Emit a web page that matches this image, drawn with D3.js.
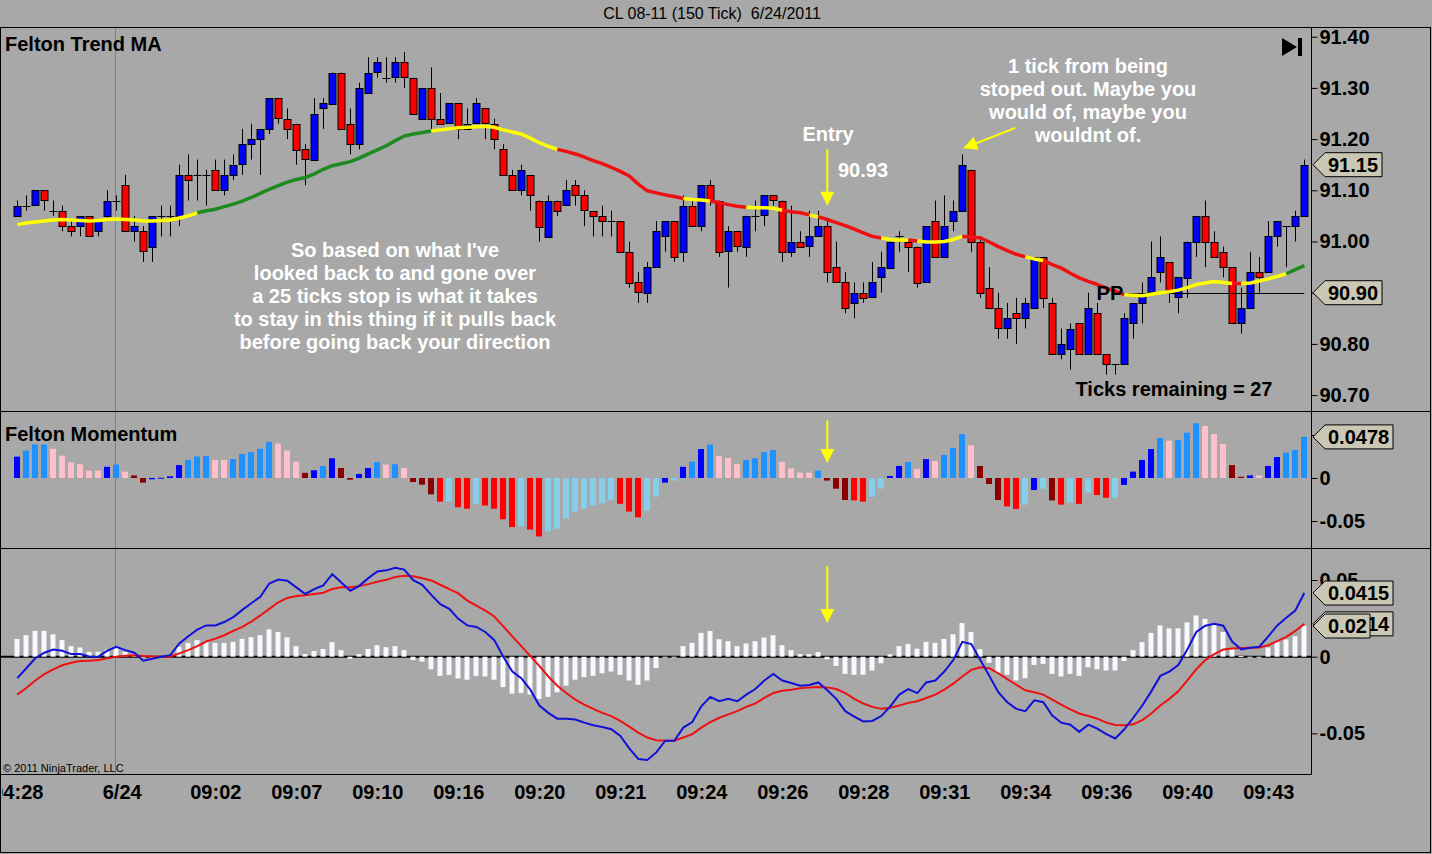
<!DOCTYPE html>
<html>
<head>
<meta charset="utf-8">
<script src="https://cdn.jsdelivr.net/npm/d3@7"></script>
<style>
html, body { margin: 0; padding: 0; background: #a8a8a8; }
svg { display: block; font-family: "Liberation Sans", Arial, sans-serif; }
</style>
</head>
<body>
<div id="canva"></div>
<script>
// ---- price bars (150 tick) ----
const opens = [91.05,91.07,91.07,91.10,91.06,91.06,91.03,91.03,91.05,91.02,
  91.05,91.08,91.11,91.02,91.02,90.99,91.05,91.05,91.05,91.13,
  91.13,91.13,91.14,91.10,91.13,91.15,91.19,91.20,91.22,91.28,
  91.24,91.23,91.18,91.16,91.26,91.27,91.33,91.23,91.19,91.29,
  91.33,91.32,91.32,91.35,91.32,91.24,91.30,91.24,91.23,91.27,
  91.22,91.23,91.26,91.23,91.18,91.13,91.10,91.13,91.08,91.01,
  91.08,91.07,91.11,91.09,91.06,91.05,91.04,91.04,90.98,90.92,
  90.90,90.95,91.01,91.04,90.98,91.07,91.03,91.11,91.08,90.98,
  91.02,90.99,91.05,91.05,91.09,91.08,90.98,91.00,90.99,91.01,
  91.03,90.95,90.92,90.88,90.90,90.89,90.93,90.95,91.01,91.00,
  90.99,90.92,91.04,90.97,91.04,91.06,91.14,91.00,90.91,90.87,
  90.83,90.86,90.85,90.87,90.97,90.88,90.78,90.79,90.84,90.78,
  90.86,90.78,90.76,90.76,90.84,90.88,90.90,90.94,90.96,90.89,
  90.93,91.00,91.05,91.00,90.98,90.95,90.84,90.87,90.94,90.94,
  91.01,91.03,91.03,91.05];
const highs = [91.08,91.09,91.10,91.10,91.08,91.07,91.04,91.05,91.05,91.04,
  91.10,91.09,91.13,91.05,91.03,91.05,91.07,91.07,91.15,91.17,
  91.16,91.14,91.16,91.16,91.17,91.22,91.23,91.22,91.28,91.28,
  91.26,91.23,91.19,91.28,91.28,91.33,91.33,91.26,91.31,91.36,
  91.36,91.36,91.36,91.37,91.32,91.30,91.34,91.29,91.27,91.27,
  91.26,91.28,91.26,91.24,91.19,91.14,91.15,91.13,91.08,91.09,
  91.08,91.12,91.12,91.10,91.06,91.07,91.06,91.04,91.00,90.94,
  90.96,91.04,91.04,91.04,91.09,91.08,91.11,91.12,91.08,91.03,
  91.02,91.05,91.08,91.09,91.09,91.08,91.07,91.02,91.06,91.06,
  91.04,91.00,90.94,90.92,90.92,90.96,90.98,91.00,91.02,91.00,
  90.99,91.03,91.08,91.09,91.08,91.17,91.14,91.01,90.95,90.90,
  90.88,90.89,90.89,90.97,90.97,90.89,90.83,90.84,90.84,90.90,
  90.88,90.78,90.76,90.86,90.88,90.92,91.00,91.01,90.96,90.93,
  91.00,91.05,91.08,91.02,90.99,90.95,90.91,90.98,90.97,91.04,
  91.04,91.03,91.06,91.16];
const lows = [91.05,91.06,91.07,91.06,91.05,91.02,91.01,91.01,91.01,91.01,
  91.04,91.06,91.02,91.00,90.96,90.96,91.01,91.01,91.03,91.08,
  91.08,91.07,91.10,91.09,91.12,91.13,91.16,91.13,91.21,91.23,
  91.20,91.15,91.11,91.16,91.22,91.27,91.22,91.17,91.18,91.29,
  91.32,91.31,91.31,91.30,91.25,91.24,91.22,91.23,91.23,91.20,
  91.22,91.23,91.20,91.18,91.13,91.10,91.09,91.06,91.00,91.01,
  91.05,91.07,91.07,91.03,91.01,91.01,91.01,90.98,90.91,90.88,
  90.88,90.95,90.98,90.96,90.96,91.03,91.02,91.07,90.97,90.91,
  90.98,90.97,91.02,91.03,91.07,90.96,90.97,90.99,90.97,91.01,
  90.92,90.92,90.86,90.85,90.88,90.89,90.90,90.95,90.98,90.94,
  90.91,90.92,90.97,90.97,91.02,91.06,90.98,90.89,90.87,90.81,
  90.81,90.80,90.83,90.87,90.87,90.78,90.77,90.75,90.78,90.78,
  90.78,90.74,90.74,90.76,90.81,90.84,90.90,90.92,90.88,90.86,
  90.89,90.97,90.95,90.97,90.93,90.84,90.82,90.87,90.90,90.94,
  90.99,90.95,91.00,91.05];
const closes = [91.07,91.07,91.10,91.08,91.06,91.03,91.02,91.05,91.01,91.04,
  91.08,91.08,91.02,91.03,90.98,91.05,91.05,91.05,91.13,91.12,
  91.13,91.13,91.10,91.13,91.15,91.19,91.20,91.22,91.28,91.24,
  91.22,91.18,91.16,91.25,91.27,91.33,91.22,91.19,91.30,91.33,
  91.35,91.32,91.35,91.32,91.25,91.30,91.24,91.23,91.27,91.22,
  91.23,91.27,91.23,91.20,91.13,91.10,91.14,91.09,91.03,91.08,
  91.06,91.10,91.09,91.06,91.05,91.04,91.04,90.98,90.92,90.90,
  90.95,91.02,91.04,90.97,91.07,91.03,91.11,91.08,90.98,91.02,
  90.99,91.05,91.05,91.09,91.08,90.98,91.00,90.99,91.01,91.03,
  90.94,90.92,90.87,90.90,90.89,90.92,90.95,91.00,91.01,90.99,
  90.92,91.03,90.97,91.03,91.06,91.15,91.00,90.90,90.87,90.83,
  90.85,90.85,90.88,90.97,90.89,90.78,90.80,90.83,90.78,90.87,
  90.78,90.76,90.76,90.85,90.88,90.90,90.93,90.97,90.90,90.93,
  91.00,91.05,91.00,90.97,90.95,90.84,90.87,90.94,90.93,91.01,
  91.04,91.03,91.05,91.15];

// ---- Felton Trend MA ----
const maValues = [91.033,91.036,91.038,91.040,91.042,91.043,91.042,91.041,91.040,91.041,
  91.043,91.044,91.043,91.042,91.040,91.040,91.041,91.042,91.046,91.050,
  91.056,91.060,91.063,91.068,91.073,91.079,91.086,91.094,91.102,91.109,
  91.116,91.121,91.125,91.132,91.141,91.148,91.152,91.156,91.163,91.171,
  91.179,91.187,91.197,91.206,91.210,91.213,91.216,91.218,91.220,91.222,
  91.223,91.224,91.225,91.223,91.218,91.214,91.210,91.202,91.193,91.186,
  91.180,91.176,91.171,91.165,91.158,91.152,91.145,91.137,91.128,91.112,
  91.099,91.095,91.091,91.088,91.084,91.082,91.081,91.079,91.076,91.072,
  91.069,91.067,91.066,91.066,91.065,91.061,91.058,91.056,91.052,91.048,
  91.043,91.037,91.031,91.024,91.017,91.010,91.007,91.004,91.003,91.003,
  91.001,90.999,90.999,91.000,91.004,91.010,91.009,91.007,90.999,90.990,
  90.982,90.975,90.970,90.966,90.963,90.955,90.948,90.938,90.929,90.922,
  90.916,90.909,90.903,90.896,90.895,90.894,90.897,90.900,90.902,90.905,
  90.910,90.916,90.919,90.922,90.920,90.918,90.918,90.919,90.923,90.927,
  90.932,90.937,90.945,90.953];
// trend state of the MA: [first bar, last bar, state]
const maRuns = [[0,20,"flat"],[20,46,"up"],[46,60,"flat"],[60,74,"down"],[74,77,"flat"],
  [77,81,"down"],[81,85,"flat"],[85,88,"down"],[88,89,"flat"],[89,96,"down"],
  [96,99,"flat"],[99,100,"down"],[100,105,"flat"],[105,112,"down"],[112,114,"flat"],
  [114,123,"down"],[123,135,"flat"],[135,136,"down"],[136,141,"flat"],[141,143,"up"]];

// ---- Felton Momentum ----
const momValues = [0.0248,0.032,0.039,0.039,0.034,0.026,0.018,0.016,0.0085,0.0085,
  0.013,0.0155,0.0074,0.003,-0.0054,-0.0015,0.0003,0.002,0.015,0.021,
  0.025,0.0256,0.021,0.021,0.022,0.028,0.030,0.034,0.042,0.040,
  0.032,0.019,0.006,0.009,0.014,0.023,0.0116,-0.002,0.0047,0.0116,
  0.0186,0.0155,0.016,0.0116,-0.0047,-0.0078,-0.019,-0.0275,-0.0275,-0.034,
  -0.0357,-0.030,-0.032,-0.0357,-0.048,-0.057,-0.056,-0.060,-0.068,-0.062,
  -0.059,-0.047,-0.039,-0.036,-0.032,-0.0295,-0.0256,-0.030,-0.039,-0.0457,
  -0.038,-0.0217,-0.0054,-0.003,0.013,0.019,0.0337,0.0388,0.0256,0.023,
  0.016,0.021,0.023,0.030,0.0326,0.019,0.0112,0.0062,0.0062,0.0085,
  -0.003,-0.0124,-0.0256,-0.026,-0.0275,-0.0217,-0.0124,0.0023,0.014,0.0186,
  0.0105,0.022,0.0198,0.0267,0.0349,0.051,0.038,0.014,-0.007,-0.0256,
  -0.033,-0.036,-0.031,-0.014,-0.0124,-0.026,-0.031,-0.028,-0.030,-0.017,
  -0.0198,-0.023,-0.023,-0.008,0.0074,0.021,0.0337,0.0465,0.0434,0.044,
  0.0527,0.0636,0.0605,0.051,0.0395,0.015,0.0015,0.003,0.003,0.014,
  0.0244,0.0295,0.0326,0.0478];
// B blue, D dodger blue, P pink, R red, M dark red, S sky blue
const momStates = ("BDDDPPPPPP" + "BDPMMBBBBD" + "DDPPDDDDDP" + "PPMBDBMMBB" +
  "DPDPMMMRSR" + "RSRRRRSRRS" + "SSSSSSSRRR" + "SSBSBDBDPP" + "PDDDDPPPPD" +
  "MMMRRSSBBD" + "PBPDDDPMMM" + "RRSBSMRSRS" + "RRSBBBBDPD" + "DDPPPMMBPB" + "BDDD").split("");

// ---- MACD ----
const macdValues = [-0.014,-0.0075,-0.001,0.0026,0.0047,0.0039,0.0017,0.0017,0.0002,0,
  0.0039,0.0065,0.0043,0.0026,-0.0026,-0.0013,0,0.001,0.0086,0.0133,
  0.0176,0.0204,0.0204,0.0226,0.0258,0.0305,0.0348,0.0391,0.0477,0.0503,
  0.0495,0.0452,0.0409,0.0441,0.0465,0.0538,0.0484,0.043,0.0462,0.0512,
  0.0555,0.0563,0.058,0.0568,0.0499,0.0469,0.0403,0.0342,0.0312,0.0247,
  0.0204,0.0194,0.0161,0.0108,0,-0.0097,-0.014,-0.0215,-0.0318,-0.0366,
  -0.0404,-0.0404,-0.0409,-0.043,-0.0447,-0.0458,-0.0473,-0.0516,-0.0598,-0.0667,
  -0.0673,-0.0624,-0.0548,-0.0548,-0.0462,-0.0426,-0.0323,-0.0262,-0.029,-0.0275,
  -0.029,-0.0247,-0.0211,-0.0155,-0.0112,-0.0155,-0.0172,-0.0189,-0.0185,-0.0168,
  -0.0219,-0.0275,-0.0355,-0.0391,-0.0422,-0.0419,-0.0387,-0.0323,-0.0247,-0.0211,
  -0.0237,-0.0168,-0.0155,-0.0097,-0.0022,0.0097,0.0082,-0.0022,-0.0125,-0.0232,
  -0.0297,-0.034,-0.0355,-0.0284,-0.0297,-0.0383,-0.043,-0.0443,-0.049,-0.0443,
  -0.0469,-0.0505,-0.0533,-0.0473,-0.0398,-0.0318,-0.0226,-0.0125,-0.0097,-0.0054,
  0.0047,0.0161,0.0202,0.0215,0.0202,0.0097,0.0047,0.0058,0.0065,0.0133,
  0.0204,0.0254,0.0301,0.0415];
const signalValues = [-0.0247,-0.0204,-0.0155,-0.0114,-0.0082,-0.0056,-0.0039,-0.0028,-0.0026,-0.0022,
  -0.0011,0,0.0006,0.0009,0.0004,0.0002,0,0,0.0022,0.0043,
  0.0069,0.0099,0.0118,0.014,0.0168,0.0194,0.0228,0.0269,0.0312,0.0355,
  0.0383,0.0396,0.04,0.0409,0.0417,0.0441,0.0452,0.0452,0.046,0.0473,
  0.0488,0.0501,0.052,0.0527,0.0525,0.0512,0.0497,0.0469,0.0441,0.0413,
  0.0366,0.0333,0.0301,0.0262,0.0198,0.0133,0.0069,0.0004,-0.006,-0.0129,
  -0.0189,-0.0237,-0.028,-0.0312,-0.034,-0.0366,-0.0387,-0.0419,-0.0456,-0.0495,
  -0.0527,-0.0544,-0.0548,-0.0548,-0.0527,-0.0505,-0.0462,-0.0426,-0.0398,-0.0376,
  -0.0355,-0.0327,-0.0305,-0.0269,-0.0237,-0.0222,-0.0215,-0.0206,-0.02,-0.0198,
  -0.02,-0.0211,-0.0237,-0.0275,-0.0305,-0.0327,-0.034,-0.0333,-0.0318,-0.0301,
  -0.029,-0.0269,-0.0247,-0.0215,-0.0176,-0.0129,-0.0086,-0.0069,-0.0075,-0.0108,
  -0.0146,-0.0183,-0.0219,-0.0232,-0.0247,-0.028,-0.0312,-0.0344,-0.037,-0.0387,
  -0.0404,-0.043,-0.0445,-0.0447,-0.0441,-0.0413,-0.037,-0.0318,-0.0275,-0.0226,
  -0.0155,-0.0082,-0.0022,0.0017,0.0047,0.0054,0.0056,0.0058,0.006,0.0075,
  0.0101,0.0129,0.0168,0.0214];
const histValues = [0.0116,0.014,0.0168,0.0168,0.0146,0.0108,0.0069,0.006,0.0032,0.0032,
  0.0047,0.006,0.0032,0.0017,-0.0004,0,0.0004,0.001,0.0065,0.009,
  0.0108,0.0099,0.009,0.009,0.0097,0.0116,0.0127,0.014,0.0178,0.0161,
  0.0127,0.0069,0.0017,0.0037,0.005,0.0095,0.0043,-0.0013,0.0017,0.005,
  0.0075,0.0062,0.0069,0.0043,-0.0022,-0.0032,-0.0082,-0.0125,-0.0118,-0.0142,
  -0.015,-0.0125,-0.0129,-0.015,-0.0198,-0.0241,-0.0237,-0.0247,-0.0275,-0.0262,
  -0.0232,-0.0189,-0.015,-0.0133,-0.0125,-0.0108,-0.0097,-0.0118,-0.0155,-0.0183,
  -0.0155,-0.0075,-0.0004,0,0.0069,0.009,0.0155,0.0168,0.0114,0.0101,
  0.0069,0.0086,0.0101,0.0125,0.014,0.0075,0.0043,0.0017,0.0017,0.003,
  -0.0017,-0.006,-0.0112,-0.0118,-0.0118,-0.009,-0.0043,0.0015,0.0069,0.0082,
  0.0052,0.0097,0.009,0.0116,0.0146,0.0219,0.0161,0.0049,-0.0039,-0.0108,
  -0.0118,-0.0155,-0.014,-0.0054,-0.0047,-0.0112,-0.0129,-0.0112,-0.0125,-0.0069,
  -0.0082,-0.009,-0.009,-0.0028,0.0043,0.0095,0.0155,0.0204,0.0185,0.0185,
  0.0224,0.0269,0.0247,0.0206,0.0161,0.0054,0.0004,-0.0004,-0.0004,0.006,
  0.0097,0.0112,0.0133,0.0200];

// ---- axes ----
const priceTicks = [90.70, 90.80, 90.90, 91.00, 91.10, 91.20, 91.30, 91.40];
const momTicks = [0.05, 0, -0.05];
const macdTicks = [0.05, 0, -0.05];
const timeLabels = ["04:28","6/24","09:02","09:07","09:10","09:16","09:20","09:21",
  "09:24","09:26","09:28","09:31","09:34","09:36","09:40","09:43"];
const timeTickIdx = [0, 11.6, 22, 31, 40, 49, 58, 67, 76, 85, 94, 103, 112, 121, 130, 139];
const sessionBreak = 11;
const pivotPrice = 90.90;
const pivotStart = 123;
const entryBar = 90;

const width = 1432, height = 854;
const left = 0.5, axisX = 1311.5;
const panels = {
  price: { top: 27.5, bottom: 411.5 },
  mom: { top: 411.5, bottom: 548.5 },
  macd: { top: 548.5, bottom: 774.5 }
};
const BG = "#a8a8a8";
const markerFill = "#cbc7b5";
const stateColor = { B: "#0000ff", D: "#1e90ff", P: "#ffc0cb", R: "#ff0000", M: "#8b0000", S: "#87ceeb" };
const maColor = { flat: "#ffff00", up: "#1f8a1f", down: "#ee1111" };

const x = d3.scaleLinear().domain([0, 143]).range([17.3, 1304.3]);
const px = i => Math.round(x(i)) + 0.5;
const yPrice = d3.scaleLinear().domain([90.70, 91.40]).range([395.1, 36.7]);
const yMom = d3.scaleLinear().domain([-0.05, 0]).range([521, 478]);
const yMacd = d3.scaleLinear().domain([-0.05, 0.05]).range([733.4, 580]);

const svg = d3.select("#canva").append("svg")
  .attr("width", width).attr("height", height);

svg.append("rect").attr("width", width).attr("height", height).attr("fill", BG);

const defs = svg.append("defs");
function clip(id, x0, y0, x1, y1) {
  defs.append("clipPath").attr("id", id).append("rect")
    .attr("x", x0).attr("y", y0).attr("width", x1 - x0).attr("height", y1 - y0);
}
clip("clip-price", 1, panels.price.top, axisX, panels.price.bottom);
clip("clip-mom", 1, panels.mom.top, axisX, panels.mom.bottom);
clip("clip-macd", 1, panels.macd.top, axisX, panels.macd.bottom);
clip("clip-time", 2, panels.macd.bottom, axisX, height);

// title bar
svg.append("text")
  .attr("x", 712).attr("y", 19)
  .attr("text-anchor", "middle")
  .attr("xml:space", "preserve")
  .style("white-space", "pre")
  .style("font-size", "16px")
  .text("CL 08-11 (150 Tick)  6/24/2011");

// ---------- price panel ----------
const gPrice = svg.append("g").attr("clip-path", "url(#clip-price)");

gPrice.append("line")
  .attr("x1", px(sessionBreak) - 1).attr("x2", px(sessionBreak) - 1)
  .attr("y1", panels.price.top).attr("y2", panels.price.bottom)
  .attr("stroke", "#808080");

const bars = gPrice.append("g").selectAll("g")
  .data(d3.range(opens.length))
  .join("g");

bars.append("line")
  .attr("x1", px).attr("x2", px)
  .attr("y1", i => yPrice(highs[i]))
  .attr("y2", i => yPrice(lows[i]))
  .attr("stroke", "#000");

bars.filter(i => opens[i] !== closes[i]).append("rect")
  .attr("x", i => px(i) - 3.5)
  .attr("y", i => Math.round(yPrice(Math.max(opens[i], closes[i]))) + 0.5)
  .attr("width", 7)
  .attr("height", i => Math.max(1, Math.round(Math.abs(yPrice(opens[i]) - yPrice(closes[i])))))
  .attr("fill", i => closes[i] > opens[i] ? "#0000ff" : "#ff0000")
  .attr("stroke", "#000");

bars.filter(i => opens[i] === closes[i]).append("line")
  .attr("x1", i => px(i) - 4).attr("x2", i => px(i) + 4)
  .attr("y1", i => Math.round(yPrice(opens[i])) + 0.5)
  .attr("y2", i => Math.round(yPrice(opens[i])) + 0.5)
  .attr("stroke", "#000");

// pivot line
gPrice.append("line")
  .attr("x1", x(pivotStart)).attr("x2", x(143))
  .attr("y1", Math.round(yPrice(pivotPrice)) + 0.5)
  .attr("y2", Math.round(yPrice(pivotPrice)) + 0.5)
  .attr("stroke", "#000");

// trend MA
const maLine = d3.line()
  .x(i => x(i))
  .y(i => yPrice(maValues[i]));

gPrice.append("g").selectAll("path")
  .data(maRuns)
  .join("path")
  .attr("d", r => maLine(d3.range(r[0], r[1] + 1)))
  .attr("fill", "none")
  .attr("stroke", r => maColor[r[2]])
  .attr("stroke-width", 3.5)
  .attr("stroke-linejoin", "round");

gPrice.append("text")
  .attr("x", x(pivotStart) - 1).attr("y", yPrice(pivotPrice) + 7)
  .attr("text-anchor", "end")
  .style("font-size", "20px").style("font-weight", "bold")
  .text("PP");

gPrice.append("text")
  .attr("x", 5).attr("y", 51)
  .style("font-size", "20px").style("font-weight", "bold")
  .text("Felton Trend MA");

// end-of-chart button
gPrice.append("path")
  .attr("d", "M1282,38L1297,47L1282,56Z")
  .attr("fill", "#000");
gPrice.append("rect")
  .attr("x", 1298).attr("y", 38).attr("width", 4).attr("height", 18)
  .attr("fill", "#000");

function arrow(g, x1, y1, x2, y2) {
  const a = Math.atan2(y2 - y1, x2 - x1);
  const len = 14, half = 7;
  const bx = x2 - len * Math.cos(a), by = y2 - len * Math.sin(a);
  g.append("line")
    .attr("x1", x1).attr("y1", y1).attr("x2", bx).attr("y2", by)
    .attr("stroke", "#ffff00").attr("stroke-width", 2);
  g.append("path")
    .attr("d", `M${x2},${y2}L${bx + half * Math.sin(a)},${by - half * Math.cos(a)}L${bx - half * Math.sin(a)},${by + half * Math.cos(a)}Z`)
    .attr("fill", "#ffff00");
}

function whiteLines(g, cx, firstY, lines) {
  g.append("text")
    .attr("text-anchor", "middle")
    .attr("fill", "#fff")
    .style("font-size", "20px").style("font-weight", "bold")
    .selectAll("tspan")
    .data(lines)
    .join("tspan")
    .attr("x", cx)
    .attr("y", (d, i) => firstY + i * 23)
    .text(d => d);
}

arrow(gPrice, x(entryBar), yPrice(91.18), x(entryBar), yPrice(91.07));
arrow(gPrice, x(110.9), yPrice(91.222), x(105.1), yPrice(91.182));

whiteLines(gPrice, 828, 141, ["Entry"]);
whiteLines(gPrice, 863, 177, ["90.93"]);
whiteLines(gPrice, 1088, 73, ["1 tick from being", "stoped out. Maybe you", "would of, maybe you", "wouldnt of."]);
whiteLines(gPrice, 395, 257, ["So based on what I've", "looked back to and gone over",
  "a 25 ticks stop is what it takes", "to stay in this thing if it pulls back",
  "before going back your direction"]);

gPrice.append("text")
  .attr("x", 1174).attr("y", 396)
  .attr("text-anchor", "middle")
  .style("font-size", "20px").style("font-weight", "bold")
  .text("Ticks remaining = 27");

// ---------- momentum panel ----------
const gMom = svg.append("g").attr("clip-path", "url(#clip-mom)");

gMom.append("line")
  .attr("x1", px(sessionBreak) - 1).attr("x2", px(sessionBreak) - 1)
  .attr("y1", panels.mom.top).attr("y2", panels.mom.bottom)
  .attr("stroke", "#808080");

gMom.append("g").selectAll("rect")
  .data(d3.range(momValues.length))
  .join("rect")
  .attr("x", i => Math.round(x(i)) - 3)
  .attr("y", i => Math.min(yMom(0), yMom(momValues[i])))
  .attr("width", 6)
  .attr("height", i => Math.max(1, Math.abs(yMom(momValues[i]) - yMom(0))))
  .attr("fill", i => stateColor[momStates[i]]);

gMom.append("text")
  .attr("x", 5).attr("y", 441)
  .style("font-size", "20px").style("font-weight", "bold")
  .text("Felton Momentum");

arrow(gMom, x(entryBar), yMom(0.067), x(entryBar), yMom(0.0175));

// ---------- MACD panel ----------
const gMacd = svg.append("g").attr("clip-path", "url(#clip-macd)");

gMacd.append("line")
  .attr("x1", px(sessionBreak) - 1).attr("x2", px(sessionBreak) - 1)
  .attr("y1", panels.macd.top).attr("y2", panels.macd.bottom)
  .attr("stroke", "#808080");

gMacd.append("line")
  .attr("x1", 1).attr("x2", axisX)
  .attr("y1", yMacd(0)).attr("y2", yMacd(0))
  .attr("stroke", "#000").attr("stroke-width", 2);

gMacd.append("g").selectAll("rect")
  .data(d3.range(histValues.length))
  .join("rect")
  .attr("x", i => Math.round(x(i)) - 2.5)
  .attr("y", i => Math.min(yMacd(0), yMacd(histValues[i])))
  .attr("width", 5)
  .attr("height", i => Math.max(1, Math.abs(yMacd(histValues[i]) - yMacd(0))))
  .attr("fill", "#f8f8ff");

const macdLine = vals => d3.line().x((d, i) => x(i)).y(d => yMacd(d))(vals);

gMacd.append("path")
  .attr("d", macdLine(signalValues))
  .attr("fill", "none").attr("stroke", "#ee1111").attr("stroke-width", 2);

gMacd.append("path")
  .attr("d", macdLine(macdValues))
  .attr("fill", "none").attr("stroke", "#1010d8").attr("stroke-width", 2);

arrow(gMacd, x(entryBar), yMacd(0.0592), x(entryBar), yMacd(0.022));

svg.append("text")
  .attr("x", 3).attr("y", 772)
  .style("font-size", "11px")
  .text("\u00a9 2011 NinjaTrader, LLC");

// ---------- frames ----------
const frame = svg.append("g").attr("stroke", "#000").attr("fill", "none");
frame.append("line").attr("x1", 0).attr("x2", 1431).attr("y1", panels.price.top).attr("y2", panels.price.top);
frame.append("line").attr("x1", 0).attr("x2", 1431).attr("y1", panels.mom.top).attr("y2", panels.mom.top);
frame.append("line").attr("x1", 0).attr("x2", 1431).attr("y1", panels.macd.top).attr("y2", panels.macd.top);
frame.append("line").attr("x1", 0).attr("x2", axisX).attr("y1", panels.macd.bottom).attr("y2", panels.macd.bottom);
frame.append("line").attr("x1", axisX).attr("x2", axisX).attr("y1", panels.price.top).attr("y2", panels.macd.bottom);
frame.append("line").attr("x1", left).attr("x2", left).attr("y1", panels.price.top).attr("y2", 853);
frame.append("line").attr("x1", 1430.5).attr("x2", 1430.5).attr("y1", panels.price.top).attr("y2", 853);
frame.append("line").attr("x1", 0).attr("x2", 1431).attr("y1", 852.5).attr("y2", 852.5);

// ---------- value axes ----------
// tick labels that sit under a value marker are not shown
function styleAxis(g, hidden) {
  g.select(".domain").remove();
  g.selectAll(".tick line").attr("stroke", "#000");
  g.selectAll(".tick text")
    .attr("fill", "#000")
    .attr("x", 8)
    .style("font-size", "20px")
    .style("font-weight", "bold")
    .style("font-family", '"Liberation Sans", Arial, sans-serif')
    .filter(d => hidden.includes(d))
    .remove();
}
const numFmt = d => d === 0 ? "0" : String(d);

svg.append("g")
  .attr("transform", `translate(${axisX},0)`)
  .call(d3.axisRight(yPrice).tickValues(priceTicks).tickFormat(d3.format(".2f")).tickSize(6))
  .call(styleAxis, [pivotPrice]);

svg.append("g")
  .attr("transform", `translate(${axisX},0)`)
  .call(d3.axisRight(yMom).tickValues(momTicks).tickFormat(numFmt).tickSize(6))
  .call(styleAxis, [0.05]);

svg.append("g")
  .attr("transform", `translate(${axisX},0)`)
  .call(d3.axisRight(yMacd).tickValues(macdTicks).tickFormat(numFmt).tickSize(6))
  .call(styleAxis, []);

function marker(yPos, label, w) {
  const x0 = axisX + 1.5, h = 12;
  const g = svg.append("g");
  g.append("path")
    .attr("d", `M${x0},${yPos}L${x0 + h},${yPos - h}L${x0 + w},${yPos - h}L${x0 + w},${yPos + h}L${x0 + h},${yPos + h}Z`)
    .attr("fill", markerFill).attr("stroke", "#000");
  g.append("text")
    .attr("x", x0 + 15).attr("y", yPos + 7)
    .style("font-size", "20px").style("font-weight", "bold")
    .text(label);
}
marker(yPrice(closes[closes.length - 1]), d3.format(".2f")(closes[closes.length - 1]), 69);
marker(yPrice(pivotPrice), d3.format(".2f")(pivotPrice), 69);
marker(yMom(momValues[momValues.length - 1]), String(momValues[momValues.length - 1]), 80);
marker(yMacd(macdValues[macdValues.length - 1]), String(macdValues[macdValues.length - 1]), 80);
marker(yMacd(signalValues[signalValues.length - 1]), String(signalValues[signalValues.length - 1]), 80);
marker(yMacd(histValues[histValues.length - 1]), "0.02", 57);

// ---------- time axis ----------
const gTime = svg.append("g")
  .attr("clip-path", "url(#clip-time)")
  .append("g")
  .attr("transform", `translate(0,${panels.macd.bottom})`)
  .call(d3.axisBottom(x).tickValues(timeTickIdx).tickFormat((d, i) => timeLabels[i]).tickSize(0));
gTime.select(".domain").remove();
gTime.selectAll(".tick text")
  .attr("fill", "#000")
  .attr("y", 10)
  .style("font-size", "20px")
  .style("font-weight", "bold")
  .style("font-family", '"Liberation Sans", Arial, sans-serif');
</script>
</body>
</html>
